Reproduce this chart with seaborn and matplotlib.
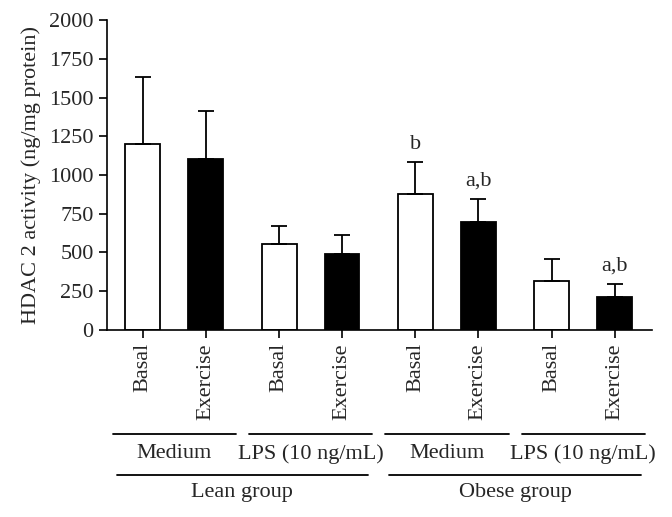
import numpy as np
import pandas as pd
import matplotlib
matplotlib.use("Agg")
import matplotlib.pyplot as plt
import seaborn as sns

# Datos
grupos = ["Lean group", "Lean group", "Lean group", "Lean group",
          "Obese group", "Obese group", "Obese group", "Obese group"]
medios = ["Medium", "Medium", "LPS (10 ng/mL)", "LPS (10 ng/mL)",
          "Medium", "Medium", "LPS (10 ng/mL)", "LPS (10 ng/mL)"]
condiciones = ["Basal", "Exercise"] * 4
actividad = [1200, 1103, 555, 490, 877, 697, 316, 213]
desviacion = [432, 310, 115, 122, 206, 148, 142, 84]
letras = ["", "", "", "", "b", "a,b", "", "a,b"]

sns.set_style("ticks")
plt.rcParams['font.family'] = ['Liberation Serif', 'DejaVu Serif']
fs = 16

# posiciones: pares de barras con un pequeño hueco entre pares
hueco = 1.167
pos = np.array([(i // 2) * (1 + hueco) + (i % 2) for i in range(len(actividad))])

df = pd.DataFrame({
    'pos': pos,
    'Actividad': actividad,
    'Condicion': condiciones,
})

fig = plt.figure(figsize=(6.72, 5.17), dpi=100)
ax = fig.add_axes([0.159, 0.362, 0.811, 0.599])

sns.barplot(data=df, x='pos', y='Actividad', hue='Condicion', native_scale=True,
            palette={'Basal': 'white', 'Exercise': 'black'}, dodge=False,
            width=0.556, edgecolor='black', linewidth=1.3, legend=False, ax=ax)

ax.errorbar(pos, actividad, yerr=[np.zeros(len(desviacion)), desviacion],
            fmt='none', ecolor='black', elinewidth=1.3, capsize=5.5, capthick=1.3)

for x, v, s, t in zip(pos, actividad, desviacion, letras):
    if t:
        ax.annotate(t, (x, v + s), xytext=(0, 6), textcoords='offset points',
                    ha='center', va='bottom', fontsize=fs)

ax.set_ylim(0, 2000)
ax.set_yticks(np.arange(0, 2001, 250))
ax.set_xlim(pos[0] - 0.57, pos[-1] + 0.59)
ax.set_xticks(pos)
ax.set_xticklabels(condiciones, rotation=90, fontsize=fs)
ax.tick_params(axis='y', labelsize=fs)
ax.tick_params(direction='out', length=6, width=1.2, color='black')
ax.set_xlabel('')
ax.set_ylabel('HDAC 2 activity (ng/mg protein)', fontsize=fs, labelpad=6)
sns.despine(ax=ax)
for sp in ['left', 'bottom']:
    ax.spines[sp].set_linewidth(1.2)
    ax.spines[sp].set_color('black')

# etiquetas de grupo debajo del eje
trans = ax.get_xaxis_transform()
for k in range(4):
    c = (pos[2 * k] + pos[2 * k + 1]) / 2
    ax.plot([c - 0.98, c + 0.98], [-0.335, -0.335], color='black', lw=1.3,
            transform=trans, clip_on=False)
    ax.text(c, -0.4, medios[2 * k], ha='center', va='center', fontsize=fs,
            transform=trans)
for k in range(2):
    c = (pos[4 * k] + pos[4 * k + 3]) / 2
    ax.plot([c - 2.0, c + 2.0], [-0.468, -0.468], color='black', lw=1.3,
            transform=trans, clip_on=False)
    ax.text(c, -0.526, grupos[4 * k], ha='center', va='center', fontsize=fs,
            transform=trans)

fig.savefig('out.png', dpi=100)
